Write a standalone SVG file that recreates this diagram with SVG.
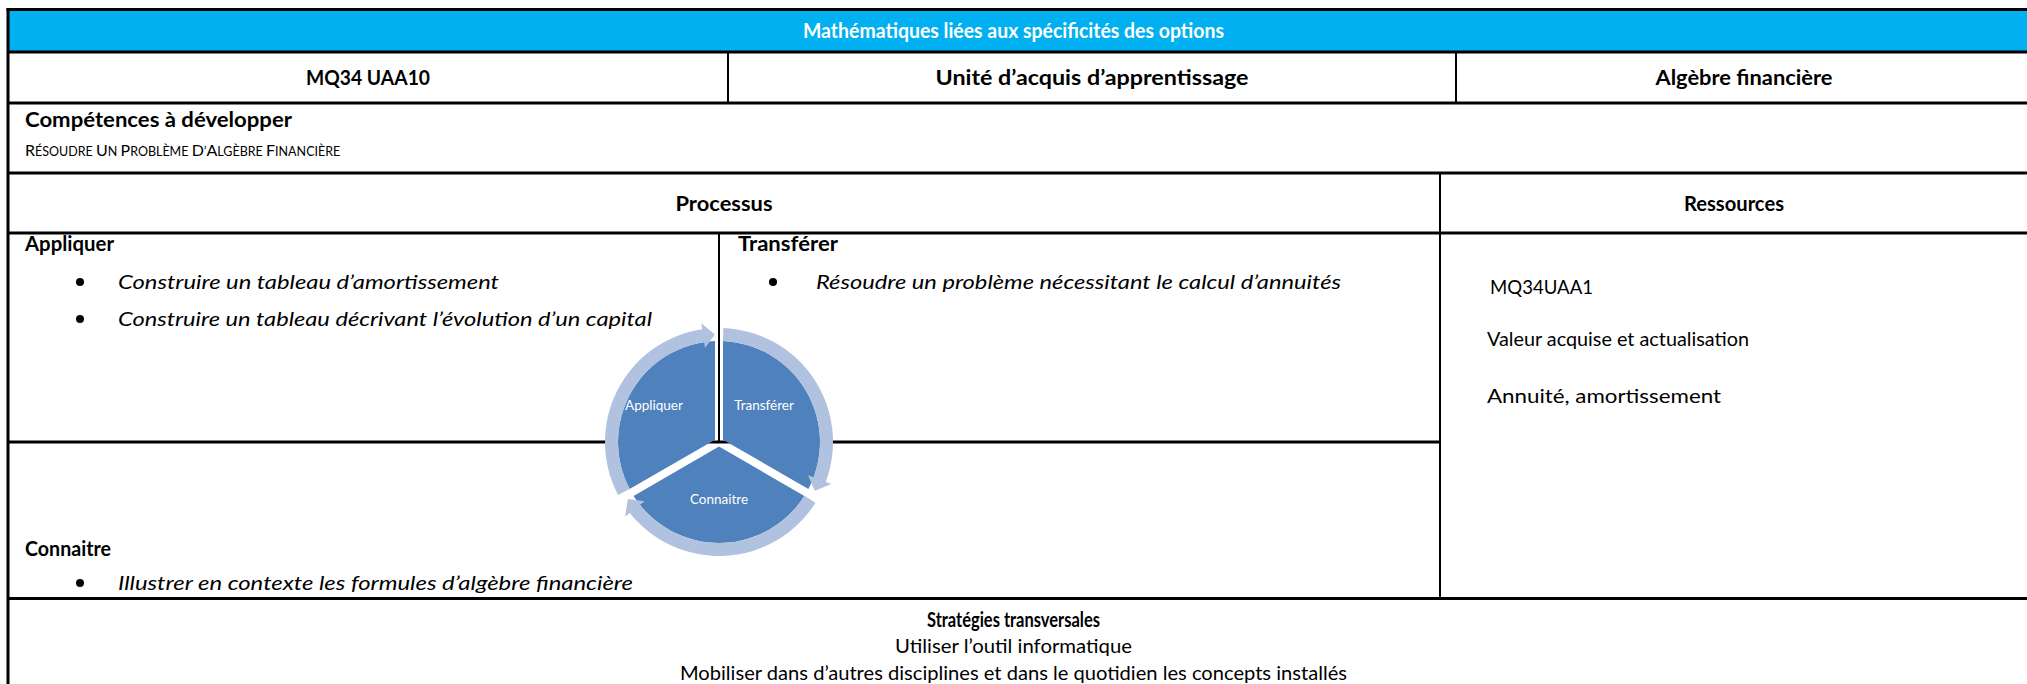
<svg xmlns="http://www.w3.org/2000/svg" width="2027" height="684" viewBox="0 0 2027 684">
<style>
text{font-family:Lato,"Liberation Sans",sans-serif;fill:#000;}
.b{font-weight:bold;font-size:20px;}
.r{font-size:20px;}
.i{font-style:italic;font-size:20px;}
.c{text-anchor:middle;}
.hdr{fill:#fff;}
.sc{font-size:12.5px;}
.scb{font-size:16px;}
.lbl{font-size:13.5px;fill:#fff;text-anchor:middle;}
.h{stroke:#000;stroke-width:3;fill:none;}
.v{stroke:#000;stroke-width:2;fill:none;}
.wedge{fill:#4f81bd;}
.arc{fill:#b0c2df;}
.dot{fill:#000;}
</style>
<rect width="2027" height="684" fill="#fff"/>
<g id="table-lines">
<rect x="8" y="11" width="2025" height="40" fill="#00b0f0"/>
<line class="h" x1="6.5" y1="9.5" x2="2030" y2="9.5"/>
<line class="h" x1="8" y1="8" x2="8" y2="690"/>
<line class="h" x1="8" y1="52" x2="2030" y2="52"/>
<line class="v" x1="728" y1="52" x2="728" y2="103"/>
<line class="v" x1="1456" y1="52" x2="1456" y2="103"/>
<line class="h" x1="8" y1="103" x2="2030" y2="103"/>
<line class="h" x1="8" y1="173" x2="2030" y2="173"/>
<line class="v" x1="1440" y1="173" x2="1440" y2="598"/>
<line class="h" x1="8" y1="233" x2="2030" y2="233"/>
<line class="v" x1="719" y1="233" x2="719" y2="442"/>
<line class="h" x1="8" y1="442" x2="1440" y2="442"/>
<line class="h" x1="8" y1="598.5" x2="2030" y2="598.5"/>
</g>
<g id="header">
<text class="b c hdr" x="1013.5" y="38" textLength="421" lengthAdjust="spacingAndGlyphs">Mathématiques liées aux spécificités des options</text>
</g>
<g id="row-title">
<text class="b c" x="368" y="85" textLength="124" lengthAdjust="spacingAndGlyphs">MQ34 UAA10</text>
<text class="b c" x="1092" y="85" textLength="313" lengthAdjust="spacingAndGlyphs">Unité d’acquis d’apprentissage</text>
<text class="b c" x="1744" y="85" textLength="177" lengthAdjust="spacingAndGlyphs">Algèbre financière</text>
</g>
<g id="competences">
<text class="b" x="25" y="127" textLength="267" lengthAdjust="spacingAndGlyphs">Compétences à développer</text>
<text class="sc" x="25" y="156"><tspan class="scb">R</tspan>ÉSOUDRE <tspan class="scb">U</tspan>N <tspan class="scb">P</tspan>ROBLÈME <tspan class="scb">D</tspan>’<tspan class="scb">A</tspan>LGÈBRE <tspan class="scb">F</tspan>INANCIÈRE</text>
</g>
<g id="processus-head">
<text class="b c" x="724" y="211" textLength="97" lengthAdjust="spacingAndGlyphs">Processus</text>
</g>
<g id="ressources-head">
<text class="b c" x="1734" y="211" textLength="100" lengthAdjust="spacingAndGlyphs">Ressources</text>
</g>
<g id="appliquer">
<text class="b" x="25" y="251" textLength="89" lengthAdjust="spacingAndGlyphs">Appliquer</text>
<circle class="dot" cx="80" cy="282" r="4"/>
<text class="i" x="118" y="289" textLength="381" lengthAdjust="spacingAndGlyphs">Construire un tableau d’amortissement</text>
<circle class="dot" cx="80" cy="319" r="4"/>
<text class="i" x="118" y="326" textLength="534" lengthAdjust="spacingAndGlyphs">Construire un tableau décrivant l’évolution d’un capital</text>
</g>
<g id="transferer">
<text class="b" x="738" y="251" textLength="100" lengthAdjust="spacingAndGlyphs">Transférer</text>
<circle class="dot" cx="773" cy="282" r="4"/>
<text class="i" x="816" y="289" textLength="525" lengthAdjust="spacingAndGlyphs">Résoudre un problème nécessitant le calcul d’annuités</text>
</g>
<g id="ressources">
<text class="r" x="1490" y="294" textLength="103" lengthAdjust="spacingAndGlyphs">MQ34UAA1</text>
<text class="r" x="1487" y="346" textLength="262" lengthAdjust="spacingAndGlyphs">Valeur acquise et actualisation</text>
<text class="r" x="1487" y="403" textLength="234" lengthAdjust="spacingAndGlyphs">Annuité, amortissement</text>
</g>
<g id="connaitre">
<text class="b" x="25" y="556" textLength="86" lengthAdjust="spacingAndGlyphs">Connaitre</text>
<circle class="dot" cx="80" cy="583" r="4"/>
<text class="i" x="118" y="590" textLength="515" lengthAdjust="spacingAndGlyphs">Illustrer en contexte les formules d’algèbre financière</text>
</g>
<g id="strategies">
<text class="b c" x="1013.5" y="627" textLength="173" lengthAdjust="spacingAndGlyphs">Stratégies transversales</text>
<text class="r c" x="1013.5" y="653" textLength="237" lengthAdjust="spacingAndGlyphs">Utiliser l’outil informatique</text>
<text class="r c" x="1013.5" y="680" textLength="667" lengthAdjust="spacingAndGlyphs">Mobiliser dans d’autres disciplines et dans le quotidien les concepts installés</text>
</g>
<g id="cycle">
<g id="cycle-appliquer">
<path class="wedge" d="M715,439.69 L629.6,489.0 A101,101 0 0 1 715.0,341.08 Z"/>
<path class="arc" d="M618.06,494.99 A114,114 0 0 1 702.15,329.25 L701.26,323.32 L714.87,334.58 L704.96,348.04 L704.07,342.11 A101,101 0 0 0 629.57,488.94 Z"/>
<text class="lbl" x="654" y="410">Appliquer</text>
</g>
<g id="cycle-transferer">
<path class="wedge" d="M723,439.69 L723,341.08 A101,101 0 0 1 808.4,489.0 Z"/>
<path class="arc" d="M723.38,328.08 A114,114 0 0 1 825.78,481.92 L831.40,484.02 L814.78,490.81 L807.99,475.27 L813.61,477.37 A101,101 0 0 0 722.88,341.07 Z"/>
<text class="lbl" x="764" y="410">Transférer</text>
</g>
<g id="cycle-connaitre">
<path class="wedge" d="M719,446.62 L804.4,495.9 A101,101 0 0 1 633.6,495.9 Z"/>
<path class="arc" d="M815.47,502.75 A114,114 0 0 1 629.78,512.97 L625.09,516.70 L627.84,498.96 L644.65,501.14 L639.96,504.87 A101,101 0 0 0 804.47,495.82 Z"/>
<text class="lbl" x="719" y="504">Connaitre</text>
</g>
</g>
</svg>
